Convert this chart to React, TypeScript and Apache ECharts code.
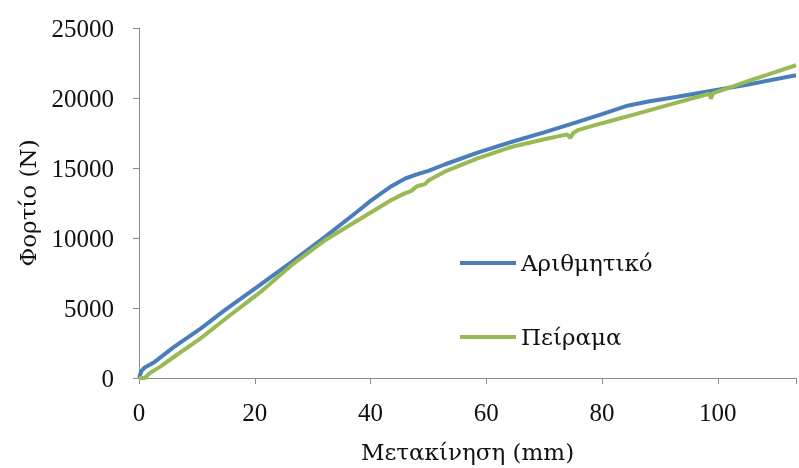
import React, { useEffect, useRef } from "react";
import * as echarts from "echarts";

const seriesNames = ["Αριθμητικό", "Πείραμα"];
const xAxisTitle = "Μετακίνηση (mm)";
const yAxisTitle = "Φορτίο (N)";

const numericX = [0, 0.4, 1, 2.7, 6, 10.7, 15, 19.9, 26.4, 32.2, 37.9, 40, 43.6, 46, 48, 50, 52.8, 58.5, 64.3, 70, 75.8, 80, 84.4, 88, 93, 99, 105, 113.5];
const numericY = [0, 500, 750, 1150, 2200, 3550, 4900, 6350, 8300, 10100, 11950, 12650, 13700, 14250, 14550, 14800, 15250, 16100, 16860, 17550, 18300, 18850, 19450, 19750, 20090, 20520, 20950, 21620];

const expX = [0, 1, 1.8, 3.8, 6, 10.7, 15, 21, 26.4, 32.2, 37.9, 43.6, 45.9, 47, 48, 49.4, 50, 52.8, 58.5, 64.3, 70, 74, 74.5, 75, 75.8, 80, 87.2, 91.2, 98.5, 98.8, 99.2, 105.6, 113.5];
const expY = [0, 0, 330, 850, 1500, 2850, 4250, 6150, 8070, 9860, 11290, 12710, 13190, 13350, 13700, 13850, 14100, 14740, 15690, 16500, 17050, 17400, 17150, 17500, 17700, 18200, 19010, 19470, 20300, 19950, 20350, 21260, 22340];

const xMax = 113.5;
const yMax = 25000;

const NUM_FONT = "'Liberation Serif', serif";
const TXT_FONT = "'DejaVu Serif', 'Liberation Serif', serif";

export default function App() {
  const ref = useRef<HTMLDivElement>(null);
  useEffect(() => {
    if (!ref.current) return;
    const chart = echarts.init(ref.current, null, { renderer: "svg" });
    const zip = (xs: number[], ys: number[]) => xs.map((x, i) => [x, ys[i]]);
    chart.setOption({
      animation: false,
      grid: { left: 139, right: 2, top: 28, bottom: 90, containLabel: false },
      legend: {
        orient: "vertical",
        left: 455,
        top: 243,
        itemWidth: 56,
        itemHeight: 4,
        itemGap: 44,
        icon: "rect",
        data: seriesNames,
        textStyle: { fontFamily: TXT_FONT, fontSize: 23, color: "#111", lineHeight: 30 },
      },
      xAxis: {
        type: "value",
        min: 0,
        max: xMax,
        interval: 20,
        name: xAxisTitle,
        nameLocation: "middle",
        nameGap: 62,
        nameTextStyle: { fontFamily: TXT_FONT, fontSize: 23, color: "#111" },
        axisLine: { lineStyle: { color: "#8c8c8c", width: 1 } },
        axisTick: { show: true, length: 6, lineStyle: { color: "#8c8c8c" } },
        axisLabel: {
          fontFamily: NUM_FONT, fontSize: 25, color: "#111", margin: 22,
          formatter: (v: number) => (v % 20 === 0 ? String(v) : ""),
        },
        splitLine: { show: false },
      },
      yAxis: {
        type: "value",
        min: 0,
        max: yMax,
        interval: 5000,
        name: yAxisTitle,
        nameLocation: "middle",
        nameGap: 100,
        nameRotate: 90,
        nameTextStyle: { fontFamily: TXT_FONT, fontSize: 23, color: "#111" },
        axisLine: { show: true, lineStyle: { color: "#8c8c8c", width: 1 } },
        axisTick: { show: true, length: 6, lineStyle: { color: "#8c8c8c" } },
        axisLabel: { fontFamily: NUM_FONT, fontSize: 25, color: "#111", margin: 25, formatter: (v: number) => String(v) },
        splitLine: { show: false },
      },
      series: [
        {
          name: seriesNames[0],
          type: "line",
          data: zip(numericX, numericY),
          showSymbol: false,
          symbol: "none",
          lineStyle: { color: "#4a7ebb", width: 4 },
          itemStyle: { color: "#4a7ebb" },
          z: 2,
        },
        {
          name: seriesNames[1],
          type: "line",
          data: zip(expX, expY),
          showSymbol: false,
          symbol: "none",
          lineStyle: { color: "#98b954", width: 4 },
          itemStyle: { color: "#98b954" },
          z: 3,
        },
      ],
    });
    return () => chart.dispose();
  }, []);
  return <div ref={ref} style={{ position: "fixed", left: 0, top: 0, width: 799, height: 468 }} />;
}
